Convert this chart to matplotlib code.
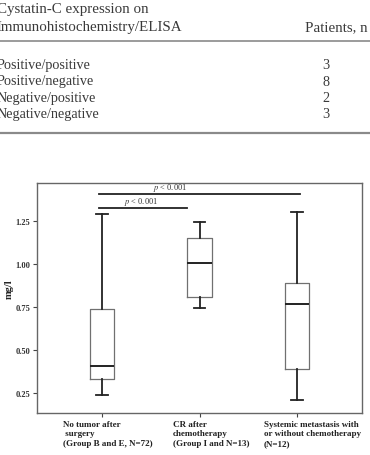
import matplotlib
matplotlib.use("Agg")
import matplotlib.pyplot as plt

plt.rcParams['font.family'] = ['Liberation Serif', 'DejaVu Serif']
plt.rcParams['mathtext.fontset'] = 'stix'

# ---- table data ----
table_header = ["Cystatin-C expression on", "Immunohistochemistry/ELISA"]
table_col2 = "Patients, n"
table_rows = ["Positive/positive", "Positive/negative", "Negative/positive", "Negative/negative"]
table_counts = [3, 8, 2, 3]

# ---- box plot data (mg/l) ----
groups = ["No tumor after\n surgery\n(Group B and E, N=72)",
          "CR after\nchemotherapy\n(Group I and N=13)",
          "Systemic metastasis with\nor without chemotherapy\n(N=12)"]
whislo = [0.24, 0.745, 0.21]
q1 = [0.333, 0.809, 0.389]
med = [0.405, 1.006, 0.767]
q3 = [0.739, 1.15, 0.887]
whishi = [1.289, 1.244, 1.30]
yticks = [0.25, 0.50, 0.75, 1.00, 1.25]
sig_pairs = [(1, 3, 1.405), (1, 2, 1.324)]
sig_text = "$p$ < 0.001"

W, H = 370, 456
fig = plt.figure(figsize=(W / 100, H / 100), dpi=100)

def fx(px):
    return px / W

def fy(py):
    return 1 - py / H

tc = '#3a3a3a'
fig.text(fx(-3), fy(12.5), table_header[0], fontsize=10.8, color=tc, va='baseline', ha='left')
fig.text(fx(-3), fy(31), table_header[1], fontsize=10.8, color=tc, va='baseline', ha='left')
fig.text(fx(368), fy(31), table_col2, fontsize=10.8, color=tc, va='baseline', ha='right')
row_y = [69, 85.5, 102, 118]
for name, cnt, y in zip(table_rows, table_counts, row_y):
    fig.text(fx(-3), fy(y), name, fontsize=10.2, color=tc, va='baseline', ha='left')
    fig.text(fx(326), fy(y), str(cnt), fontsize=10.2, color=tc, va='baseline', ha='center')
for y, lw in [(42, 1.2), (134, 1.6)]:
    fig.add_artist(plt.Line2D([0, 1], [fy(y), fy(y)], color='#8a8a8a', lw=lw,
                              transform=fig.transFigure))

# ---- box plot ----
ax = fig.add_axes([fx(37), fy(414), fx(362) - fx(37), fy(184) - fy(414)])
stats = []
for i in range(3):
    stats.append(dict(whislo=whislo[i], q1=q1[i], med=med[i], q3=q3[i],
                      whishi=whishi[i], fliers=[]))
ax.bxp(stats, positions=[1, 2, 3], widths=0.256, capwidths=0.12, showfliers=False,
       boxprops=dict(color='#707070', lw=0.9),
       whiskerprops=dict(color='#222222', lw=1.3),
       capprops=dict(color='#222222', lw=1.3),
       medianprops=dict(color='#222222', lw=1.4))
ax.set_xlim(0.333, 3.667)
ax.set_ylim(0.134, 1.469)
ax.set_yticks(yticks)
ax.set_yticklabels([f"{v:.2f}" for v in yticks], fontsize=6, fontweight='bold', color='#333333')
ax.set_xticks([1, 2, 3])
ax.set_xticklabels([])
ax.tick_params(axis='both', length=3, width=0.8, color='#444444', pad=2)
for s in ax.spines.values():
    s.set_color('#666666')
    s.set_linewidth(1.0)
fig.text(fx(9), fy(289), "mg/l", fontsize=7.5, fontweight='bold', rotation=90,
         ha='center', va='center', color='#222222')

for (a, b, y) in sig_pairs:
    ax.plot([a - 0.03, b + 0.03 if b == 3 else b - 0.13], [y, y], color='#222222', lw=1.3)
ax.text(1.7, 1.412, sig_text, fontsize=6, ha='center', va='bottom', color='#333333')
ax.text(1.4, 1.331, sig_text, fontsize=6, ha='center', va='bottom', color='#333333')

label_x = [63, 173, 264]
for lab, x in zip(groups, label_x):
    fig.text(fx(x), fy(421), lab, fontsize=6.5, fontweight='bold', ha='left', va='top',
             linespacing=1.25, color='#222222')

fig.savefig("out.png", dpi=100)
